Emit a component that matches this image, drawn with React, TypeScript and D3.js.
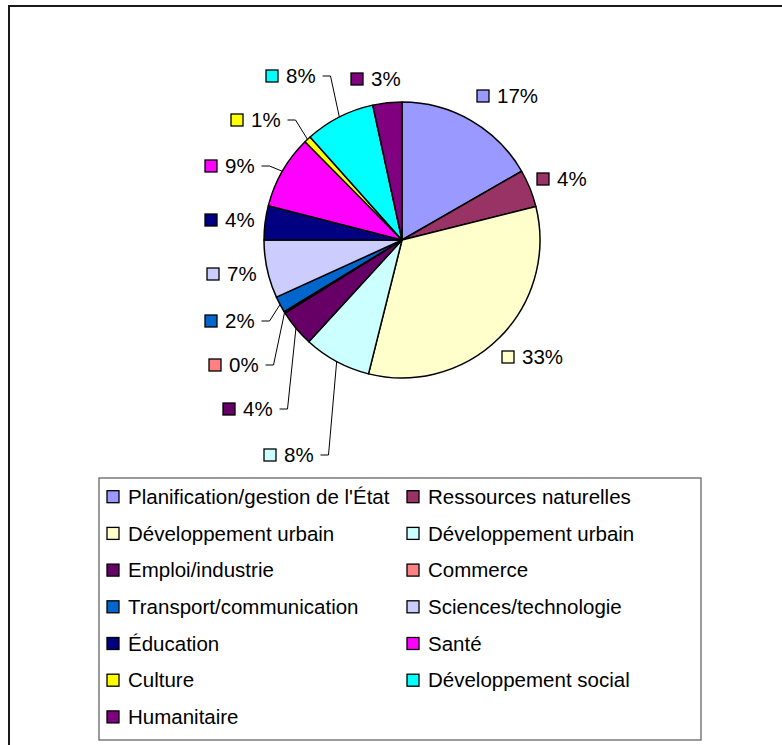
import React from "react";
import * as d3 from "d3";

const categories = [
  "Planification/gestion de l'État",
  "Ressources naturelles",
  "Développement urbain",
  "Développement urbain",
  "Emploi/industrie",
  "Commerce",
  "Transport/communication",
  "Sciences/technologie",
  "Éducation",
  "Santé",
  "Culture",
  "Développement social",
  "Humanitaire",
];

const shares = [16.7, 4.4, 32.8, 7.9, 4.3, 0.2, 1.9, 6.8, 4.0, 8.6, 0.8, 8.2, 3.4];

const colors = [
  "#9999FF", "#993366", "#FFFFCC", "#CCFFFF", "#660066", "#FF8080", "#0066CC",
  "#CCCCFF", "#000080", "#FF00FF", "#FFFF00", "#00FFFF", "#800080",
];

// label placement (marker square left x, vertical centre) and whether a leader line is drawn
const labelX = [477, 537, 502, 264, 223, 209, 205, 207, 205, 205, 231, 266, 351];
const labelY = [96, 179, 357, 455, 409, 365, 321, 274, 220, 166, 120, 76, 79];
const hasLeader = [false, false, false, true, true, true, true, false, false, true, true, true, false];

const W = 782;
const H = 745;
const cx = 402;
const cy = 240;
const R = 138;
const FONT = "'Liberation Sans', Arial, sans-serif";
const FS = 20.5;

export default function App() {
  const total = d3.sum(shares);
  const pie = d3.pie<number>().sort(null).value((d) => d)(shares);
  const arc = d3.arc<d3.PieArcDatum<number>>().innerRadius(0).outerRadius(R);

  const legendX = 99, legendY = 478, legendW = 602, legendH = 262;
  const rowH = 36.7, row0 = 496.7;
  const colX = [107, 407];

  return (
    <svg width={W} height={H} style={{ position: "absolute", left: 0, top: 0, background: "#fff" }} fontFamily={FONT}>
      <rect x={0} y={0} width={W} height={H} fill="#fff" />
      <rect x={9} y={6} width={900} height={900} fill="none" stroke="#1a1a1a" strokeWidth={2} />
      <g transform={`translate(${cx},${cy})`}>
        {pie.map((p, i) => (
          <path key={i} d={arc(p) || ""} fill={colors[i]} stroke="#000" strokeWidth={1.5} strokeLinejoin="round" />
        ))}
      </g>
      {pie.map((p, i) => {
        const mid = (p.startAngle + p.endAngle) / 2;
        const ex = cx + R * Math.sin(mid);
        const ey = cy - R * Math.cos(mid);
        const txt = `${Math.round((shares[i] / total) * 100)}%`;
        const tx = labelX[i] + 20;
        const tw = txt.length === 2 ? 29.5 : 41;
        const ly = labelY[i];
        return (
          <g key={i}>
            <rect x={labelX[i]} y={ly - 6} width={12} height={12} fill={colors[i]} stroke="#000" strokeWidth={1.3} />
            <text x={tx} y={ly} dy="0.35em" fontSize={FS} fill="#000">{txt}</text>
            {hasLeader[i] && (
              <polyline
                points={`${tx + tw + 7},${ly} ${tx + tw + 15},${ly} ${ex},${ey}`}
                fill="none"
                stroke="#000"
                strokeWidth={1}
              />
            )}
          </g>
        );
      })}
      <rect x={legendX} y={legendY} width={legendW} height={legendH} fill="#fff" stroke="#666" strokeWidth={1.3} />
      {categories.map((c, i) => {
        const col = i % 2;
        const row = Math.floor(i / 2);
        const y = row0 + row * rowH;
        return (
          <g key={i}>
            <rect x={colX[col]} y={y - 6} width={12} height={12} fill={colors[i]} stroke="#000" strokeWidth={1.3} />
            <text x={colX[col] + 21} y={y} dy="0.35em" fontSize={FS} fill="#000">{c}</text>
          </g>
        );
      })}
    </svg>
  );
}
